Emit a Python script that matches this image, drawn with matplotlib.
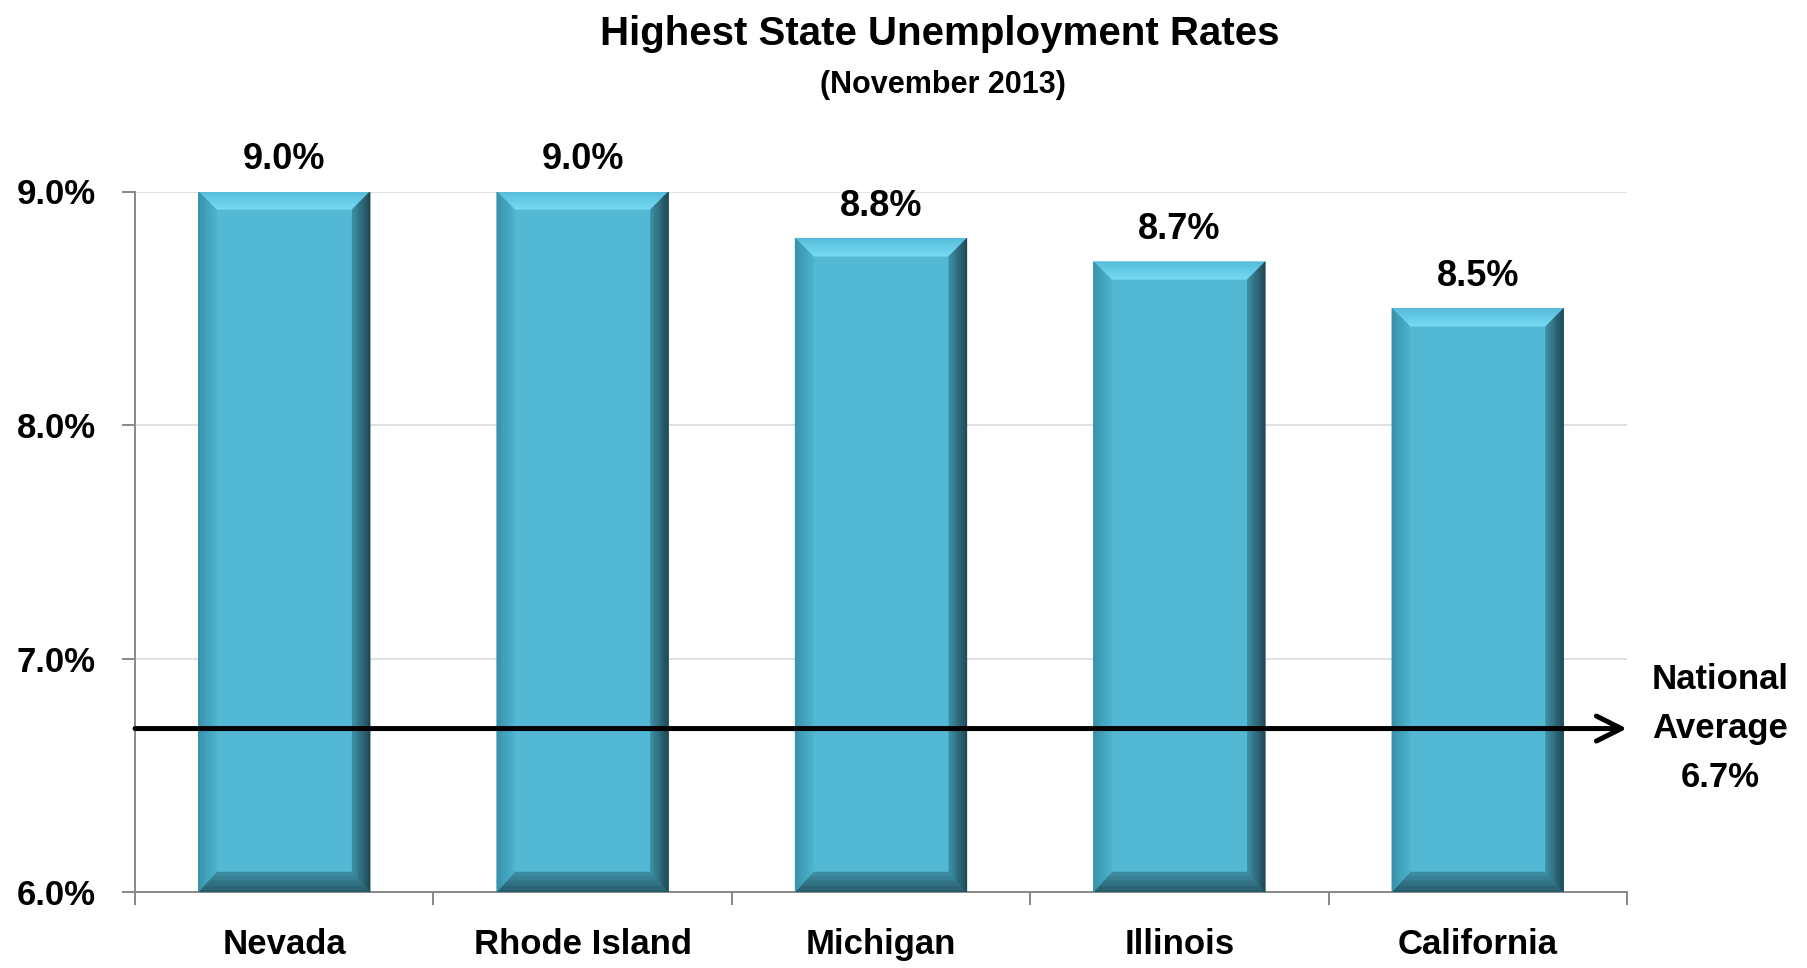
import numpy as np
import matplotlib
matplotlib.use('Agg')
import matplotlib.pyplot as plt
from matplotlib.colors import to_rgb

plt.rcParams['font.family'] = ['Liberation Sans', 'DejaVu Sans']
plt.rcParams['font.weight'] = 'bold'

# data
states = ['Nevada', 'Rhode Island', 'Michigan', 'Illinois', 'California']
rates = [9.0, 9.0, 8.8, 8.7, 8.5]
national_avg = 6.7
y_ticks = [6.0, 7.0, 8.0, 9.0]
y_tick_labels = ['6.0%', '7.0%', '8.0%', '9.0%']

W, H, DPI = 1807, 968, 100
fig = plt.figure(figsize=(W / DPI, H / DPI), dpi=DPI)
# axes box in pixels: left 135, right 1627, bottom 892, top 191.5
ax = fig.add_axes([135 / W, (H - 892) / H, 1492 / W, 700.5 / H])

y_min, y_max = y_ticks[0], y_ticks[-1]
n = len(states)
x = np.arange(n)
bar_w = 0.576
ax.set_xlim(-0.5, n - 0.5)
ax.set_ylim(y_min, y_max)

face = '#53B8D3'
ax.bar(x, np.array(rates) - y_min, bottom=y_min, width=bar_w, color=face,
       edgecolor='none', zorder=2)

# bevel sizes in pixels -> data units
bb = ax.get_window_extent()
px_x = bb.width / (n)            # pixels per x unit
px_y = bb.height / (y_max - y_min)
sx = 18 / px_x
ty = 18 / px_y
by = 20 / px_y


def shade(outer, inner, c_out, c_in, steps=8):
    # fill a trapezoid as strips blending from outer edge to inner edge
    o0, o1 = np.array(outer[0]), np.array(outer[1])
    i0, i1 = np.array(inner[0]), np.array(inner[1])
    co, ci = np.array(to_rgb(c_out)), np.array(to_rgb(c_in))
    for k in range(steps):
        t0, t1 = k / steps, (k + 1) / steps
        a0 = o0 + (i0 - o0) * t0
        a1 = o1 + (i1 - o1) * t0
        b0 = o0 + (i0 - o0) * t1
        b1 = o1 + (i1 - o1) * t1
        col = co + (ci - co) * (t0 + t1) / 2
        ax.fill([a0[0], a1[0], b1[0], b0[0]], [a0[1], a1[1], b1[1], b0[1]],
                color=col, lw=0.3, ec=col, zorder=3)


for xi, v in zip(x, rates):
    L, R = xi - bar_w / 2, xi + bar_w / 2
    T, B = v, y_min
    shade([(L, T), (R, T)], [(L + sx, T - ty), (R - sx, T - ty)], '#56BCD7', '#76DAF5')
    shade([(L, B), (R, B)], [(L + sx, B + by), (R - sx, B + by)], '#255766', '#3E8FA5')
    shade([(L, B), (L, T)], [(L + sx, B + by), (L + sx, T - ty)], '#3890A9', '#4DB2CD')
    shade([(R, B), (R, T)], [(R - sx, B + by), (R - sx, T - ty)], '#1D4450', '#3D8FA5')
    ax.annotate(f'{v:.1f}%', xy=(xi, v), xytext=(0, 16), textcoords='offset points',
                ha='center', va='baseline', fontsize=26, fontweight='bold')

# grid, spines, ticks
for s in ['top', 'right']:
    ax.spines[s].set_visible(False)
for s in ['left', 'bottom']:
    ax.spines[s].set_color('#888888')
    ax.spines[s].set_linewidth(1.4)
ax.set_yticks(y_ticks)
ax.set_yticklabels(y_tick_labels)
ax.yaxis.grid(True, color='#D9D9D9', lw=1.1, zorder=0)
ax.set_axisbelow(True)
ax.tick_params(axis='y', direction='out', length=9.4, width=1.4, color='#888888',
               labelsize=25, pad=19)
ax.set_xticks(x)
ax.set_xticklabels(states)
ax.set_xticks(np.arange(-0.5, n, 1.0), minor=True)
ax.tick_params(axis='x', which='major', length=0, labelsize=25, pad=26)
ax.tick_params(axis='x', which='minor', direction='out', length=9.4, width=1.4,
               color='#888888')
for lab in ax.get_xticklabels() + ax.get_yticklabels():
    lab.set_fontweight('bold')

# national average arrow
ax.annotate('', xy=(n - 0.5, national_avg), xytext=(-0.5, national_avg),
            arrowprops=dict(arrowstyle='->,head_length=0.4,head_width=0.2',
                            lw=3.6, color='black', mutation_scale=45,
                            shrinkA=0, shrinkB=0),
            zorder=5, annotation_clip=False)
ax.annotate(f'National\nAverage\n{national_avg:.1f}%', xy=(1.0, national_avg),
            xycoords=('axes fraction', 'data'), xytext=(93, 0),
            textcoords='offset pixels', ha='center', va='center',
            fontsize=25, fontweight='bold', linespacing=1.6)

fig.text(940 / W, 1 - 34 / H, 'Highest State Unemployment Rates', ha='center',
         va='center', fontsize=29, fontweight='bold')
fig.text(943 / W, 1 - 85 / H, '(November 2013)', ha='center', va='center',
         fontsize=22, fontweight='bold')

fig.savefig('out.png', dpi=DPI)
